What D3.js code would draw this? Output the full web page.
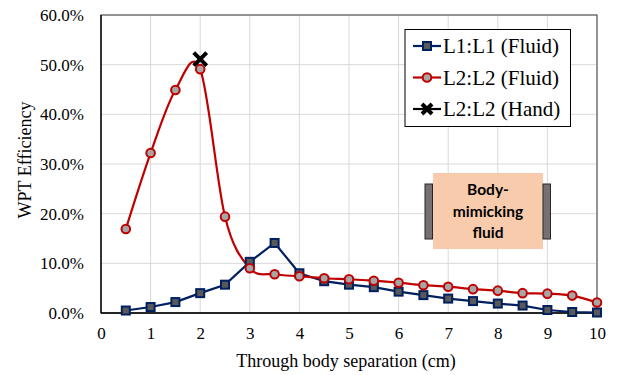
<!DOCTYPE html>
<html>
<head>
<meta charset="utf-8">
<script src="https://cdn.jsdelivr.net/npm/d3@7"></script>
</head>
<body style="margin:0">
<svg id="canvas" width="618" height="375" font-family="Liberation Serif"></svg>
<script>
// data (efficiency in %)
var separation = [0.5, 1, 1.5, 2, 2.5, 3, 3.5, 4, 4.5, 5, 5.5, 6, 6.5, 7, 7.5, 8, 8.5, 9, 9.5, 10];
var l1Fluid = [0.5, 1.2, 2.2, 4.0, 5.7, 10.3, 14.1, 8.0, 6.4, 5.7, 5.2, 4.3, 3.6, 2.9, 2.4, 1.9, 1.5, 0.6, 0.2, 0.1];
var l2Fluid = [16.9, 32.2, 44.9, 49.1, 19.4, 9.0, 7.8, 7.4, 7.0, 6.8, 6.5, 6.1, 5.6, 5.3, 4.8, 4.5, 4.0, 3.9, 3.5, 2.1];
var l2HandX = [2];
var l2Hand = [51.1];
var xTicks = [0, 1, 2, 3, 4, 5, 6, 7, 8, 9, 10];
var yTicks = [0, 10, 20, 30, 40, 50, 60];
var seriesNames = ["L1:L1 (Fluid)", "L2:L2 (Fluid)", "L2:L2 (Hand)"];

var svg = d3.select("#canvas"),
    margin = {left: 101, top: 15, right: 21, bottom: 62},
    width = 618 - margin.left - margin.right,
    height = 375 - margin.top - margin.bottom;

var x = d3.scaleLinear().domain([0, 10]).range([0, width]);
var y = d3.scaleLinear().domain([0, 60]).range([height, 0]);

var g = svg.append("g").attr("transform", "translate(" + margin.left + "," + margin.top + ")");

// gridlines
g.append("g").selectAll("line").data(xTicks).enter().append("line")
  .attr("x1", function(d) { return x(d); }).attr("x2", function(d) { return x(d); })
  .attr("y1", 0).attr("y2", height)
  .attr("stroke", "#d9d9d9").attr("stroke-width", 1);
g.append("g").selectAll("line").data(yTicks).enter().append("line")
  .attr("y1", function(d) { return y(d); }).attr("y2", function(d) { return y(d); })
  .attr("x1", 0).attr("x2", width)
  .attr("stroke", "#d9d9d9").attr("stroke-width", 1);

// plot border
g.append("rect").attr("width", width).attr("height", height)
  .attr("fill", "none").attr("stroke", "#595959").attr("stroke-width", 1.2);
g.append("line").attr("x1", 0).attr("x2", width).attr("y1", height).attr("y2", height)
  .attr("stroke", "#000").attr("stroke-width", 1.3);
g.append("line").attr("x1", 0).attr("x2", 0).attr("y1", 0).attr("y2", height)
  .attr("stroke", "#000").attr("stroke-width", 1.3);

// axes
var xAxis = g.append("g").attr("transform", "translate(0," + height + ")")
  .call(d3.axisBottom(x).tickValues(xTicks).tickSize(0).tickPadding(14));
var yAxis = g.append("g")
  .call(d3.axisLeft(y).tickValues(yTicks).tickSize(0).tickPadding(17)
    .tickFormat(function(d) { return d.toFixed(1) + "%"; }));
[xAxis, yAxis].forEach(function(a) {
  a.select(".domain").remove();
  a.attr("font-family", null).attr("font-size", 17);
  a.selectAll("text").attr("fill", "#000");
});

// axis titles
svg.append("text")
  .attr("x", margin.left + width / 2 - 3).attr("y", 367)
  .attr("text-anchor", "middle")
  .attr("font-size", 18)
  .text("Through body separation (cm)");
svg.append("text")
  .attr("transform", "translate(31," + (margin.top + height / 2 - 4) + ") rotate(-90)")
  .attr("text-anchor", "middle")
  .attr("font-size", 18)
  .text("WPT Efficiency");

// body-mimicking fluid inset
var inset = svg.append("g");
inset.append("rect").attr("x", 433).attr("y", 173).attr("width", 110).attr("height", 76)
  .attr("fill", "#f8cbad");
inset.append("rect").attr("x", 425).attr("y", 184).attr("width", 7.5).attr("height", 55)
  .attr("fill", "#767171").attr("stroke", "#262626").attr("stroke-width", 1);
inset.append("rect").attr("x", 543).attr("y", 184).attr("width", 7.5).attr("height", 55)
  .attr("fill", "#767171").attr("stroke", "#262626").attr("stroke-width", 1);
inset.selectAll("text").data(["Body-", "mimicking", "fluid"]).enter().append("text")
  .attr("x", 488).attr("y", function(d, i) { return 195 + i * 21.5; })
  .attr("text-anchor", "middle")
  .attr("font-family", "Lato")
  .attr("font-weight", "bold").attr("font-size", 15.5).attr("fill", "#000")
  .text(function(d) { return d; });

// series
var blue = "#002060", red = "#c00000";

var l1Data = separation.map(function(s, i) { return [s, l1Fluid[i]]; });
var l2Data = separation.map(function(s, i) { return [s, l2Fluid[i]]; });
var handData = l2HandX.map(function(s, i) { return [s, l2Hand[i]]; });

var straight = d3.line().x(function(d) { return x(d[0]); }).y(function(d) { return y(d[1]); });
var smooth = d3.line().x(function(d) { return x(d[0]); }).y(function(d) { return y(d[1]); })
  .curve(d3.curveCardinal.tension(0));

g.append("path").attr("d", straight(l1Data))
  .attr("fill", "none").attr("stroke", blue).attr("stroke-width", 2.2);
g.append("path").attr("d", smooth(l2Data))
  .attr("fill", "none").attr("stroke", red).attr("stroke-width", 2.2);

function drawSquare(sel, cx, cy) {
  sel.append("rect").attr("x", cx - 4).attr("y", cy - 4).attr("width", 8).attr("height", 8)
    .attr("fill", "#595959").attr("stroke", blue).attr("stroke-width", 2);
}
function drawCircle(sel, cx, cy) {
  sel.append("circle").attr("cx", cx).attr("cy", cy).attr("r", 4.3)
    .attr("fill", "#a6a6a6").attr("stroke", red).attr("stroke-width", 2);
}
function drawCross(sel, cx, cy, s) {
  sel.append("path")
    .attr("d", "M" + (cx - s) + "," + (cy - s) + "L" + (cx + s) + "," + (cy + s) +
               "M" + (cx - s) + "," + (cy + s) + "L" + (cx + s) + "," + (cy - s))
    .attr("stroke", "#000").attr("stroke-width", 4).attr("fill", "none");
}

var marks = g.append("g");
l1Data.forEach(function(d) { drawSquare(marks, x(d[0]), y(d[1])); });
l2Data.forEach(function(d) { drawCircle(marks, x(d[0]), y(d[1])); });
handData.forEach(function(d) { drawCross(marks, x(d[0]), y(d[1]), 6.5); });

// legend
var legend = svg.append("g");
legend.append("rect").attr("x", 405).attr("y", 29.5).attr("width", 165.5).attr("height", 97)
  .attr("fill", "#fff").attr("stroke", "#000").attr("stroke-width", 1);
var legendColors = [blue, red, "#000"];
seriesNames.forEach(function(name, i) {
  var cy = 46 + i * 31.5;
  legend.append("line").attr("x1", 413).attr("x2", 441).attr("y1", cy).attr("y2", cy)
    .attr("stroke", legendColors[i]).attr("stroke-width", 2.2);
  if (i === 0) drawSquare(legend, 427, cy);
  if (i === 1) drawCircle(legend, 427, cy);
  if (i === 2) drawCross(legend, 427, cy, 5);
  legend.append("text").attr("x", 443).attr("y", cy + 7)
    .attr("font-size", 21).attr("fill", "#000")
    .text(name);
});
</script>
</body>
</html>
